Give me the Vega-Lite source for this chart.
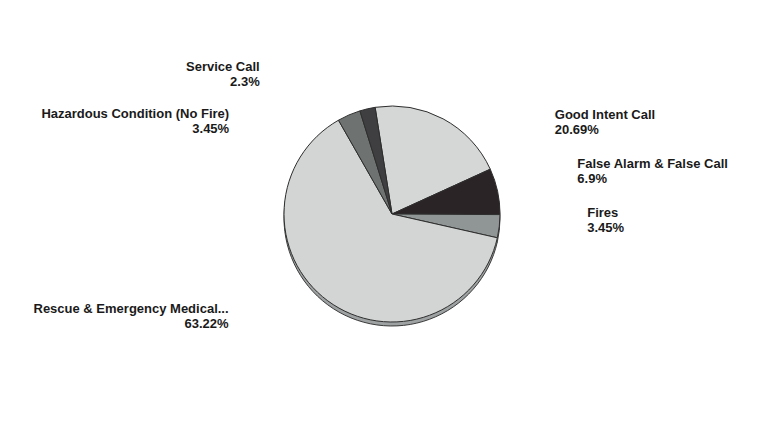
{
  "$schema": "https://vega.github.io/schema/vega-lite/v6.json",
  "width": 764,
  "height": 436,
  "autosize": {"type": "fit", "contains": "padding"},
  "padding": {"left": 20, "top": 0, "right": 0, "bottom": 8},
  "background": "white",
  "config": {"view": {"stroke": null}, "font": "Liberation Sans"},
  "data": {
    "values": [
      {"cat": "Good Intent Call", "rank": 1, "pct": 20.69, "label": "Good Intent Call\n20.69%"},
      {"cat": "False Alarm & False Call", "rank": 2, "pct": 6.9, "label": "False Alarm & False Call\n6.9%"},
      {"cat": "Fires", "rank": 3, "pct": 3.45, "label": "Fires\n3.45%"},
      {"cat": "Rescue & Emergency Medical...", "rank": 4, "pct": 63.22, "label": "Rescue & Emergency Medical...\n63.22%"},
      {"cat": "Hazardous Condition (No Fire)", "rank": 5, "pct": 3.45, "label": "Hazardous Condition (No Fire)\n3.45%"},
      {"cat": "Service Call", "rank": 6, "pct": 2.3, "label": "Service Call\n2.3%"}
    ]
  },
  "encoding": {
    "theta": {"field": "pct", "type": "quantitative", "stack": true, "scale": {"range": [-0.157, 6.126]}},
    "order": {"field": "rank", "type": "quantitative"},
    "detail": {"field": "cat", "type": "nominal"}
  },
  "layer": [
    {
      "mark": {"type": "arc", "outerRadius": 108, "fill": "#9ea2a2", "stroke": "#3a3a3a", "strokeWidth": 1, "yOffset": 4}
    },
    {
      "mark": {"type": "arc", "outerRadius": 108, "stroke": "#2e2e2e", "strokeWidth": 1},
      "encoding": {
        "color": {
          "field": "cat", "type": "nominal", "legend": null,
          "scale": {
            "domain": ["Good Intent Call", "False Alarm & False Call", "Fires", "Rescue & Emergency Medical...", "Hazardous Condition (No Fire)", "Service Call"],
            "range": ["#d5d6d6", "#2b2427", "#8f9695", "#d3d4d4", "#6e7371", "#3f3f42"]
          }
        }
      }
    },
    {
      "mark": {"type": "text", "radius": 120, "align": "left", "baseline": "middle", "fontSize": 13, "fontWeight": "bold", "lineBreak": "\n", "lineHeight": 15, "color": "#1a1a1a", "dx": 106, "dy": 7},
      "encoding": {"text": {"condition": {"test": "datum.cat === 'Good Intent Call'", "field": "label"}, "value": ""}}
    },
    {
      "mark": {"type": "text", "radius": 120, "align": "left", "baseline": "middle", "fontSize": 13, "fontWeight": "bold", "lineBreak": "\n", "lineHeight": 15, "color": "#1a1a1a", "dx": 68, "dy": -25},
      "encoding": {"text": {"condition": {"test": "datum.cat === 'False Alarm & False Call'", "field": "label"}, "value": ""}}
    },
    {
      "mark": {"type": "text", "radius": 120, "align": "left", "baseline": "middle", "fontSize": 13, "fontWeight": "bold", "lineBreak": "\n", "lineHeight": 15, "color": "#1a1a1a", "dx": 76, "dy": -15},
      "encoding": {"text": {"condition": {"test": "datum.cat === 'Fires'", "field": "label"}, "value": ""}}
    },
    {
      "mark": {"type": "text", "radius": 120, "align": "right", "baseline": "middle", "fontSize": 13, "fontWeight": "bold", "lineBreak": "\n", "lineHeight": 15, "color": "#1a1a1a", "dx": -92, "dy": -1},
      "encoding": {"text": {"condition": {"test": "datum.cat === 'Rescue & Emergency Medical...'", "field": "label"}, "value": ""}}
    },
    {
      "mark": {"type": "text", "radius": 120, "align": "right", "baseline": "middle", "fontSize": 13, "fontWeight": "bold", "lineBreak": "\n", "lineHeight": 15, "color": "#1a1a1a", "dx": -115, "dy": 10},
      "encoding": {"text": {"condition": {"test": "datum.cat === 'Hazardous Condition (No Fire)'", "field": "label"}, "value": ""}}
    },
    {
      "mark": {"type": "text", "radius": 120, "align": "right", "baseline": "middle", "fontSize": 13, "fontWeight": "bold", "lineBreak": "\n", "lineHeight": 15, "color": "#1a1a1a", "dx": -105, "dy": -30},
      "encoding": {"text": {"condition": {"test": "datum.cat === 'Service Call'", "field": "label"}, "value": ""}}
    }
  ]
}
